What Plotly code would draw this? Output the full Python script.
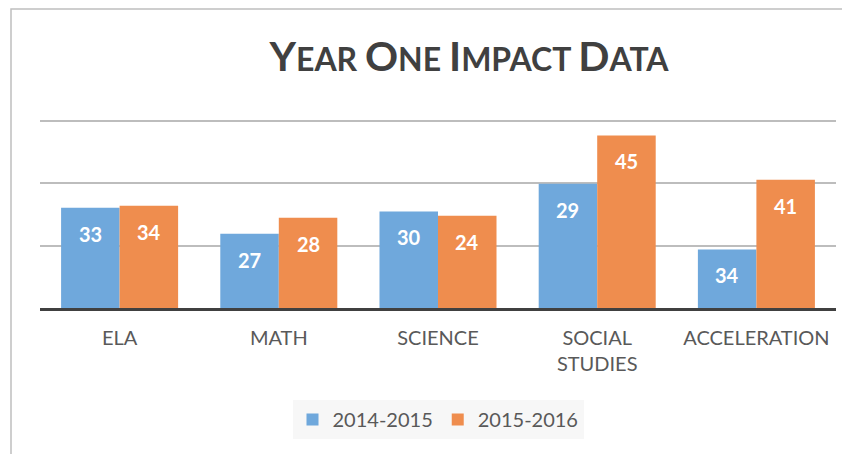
import plotly.graph_objects as go

categories = ["ELA", "MATH", "SCIENCE", "SOCIAL<br>STUDIES", "ACCELERATION"]
series_names = ["2014-2015", "2015-2016"]
# bar heights as drawn (scale 0-60), and the labels printed on them
heights_2014 = [32.2, 23.8, 31.0, 39.9, 18.8]
heights_2015 = [32.8, 29.0, 29.6, 55.4, 41.2]
labels_2014 = ["33", "27", "30", "29", "34"]
labels_2015 = ["34", "28", "24", "45", "41"]

colors = ["#6FA8DC", "#EF8D4E"]
font = "Lato, 'Open Sans', sans-serif"

W, H = 842, 446  # page body adds an 8px margin

fig = go.Figure()
for name, h, c in zip(series_names, [heights_2014, heights_2015], colors):
    fig.add_trace(go.Bar(x=categories, y=h, name=name, marker=dict(color=c, line=dict(width=0))))

# data labels (inside end)
bw = (1 - 0.265) / 2
for i in range(len(categories)):
    for off, h, lab in [(-bw / 2, heights_2014[i], labels_2014[i]), (bw / 2, heights_2015[i], labels_2015[i])]:
        fig.add_annotation(x=i + off, y=h, text="<b>" + lab + "</b>", showarrow=False,
                           yanchor="middle", yshift=-26,
                           font=dict(family=font, size=20, color="white"))

big = "<span style='font-size:41px'>%s</span>"
title = (big % "Y" + "EAR " + big % "O" + "NE " + big % "I" + "MPACT " + big % "D" + "ATA")

fig.update_layout(
    width=W, height=H,
    margin=dict(l=32, r=14, t=110, b=146, autoexpand=False),
    paper_bgcolor="white", plot_bgcolor="white",
    barmode="group", bargap=0.265, bargroupgap=0,
    title=dict(text=title, x=461 / W, xref="container", xanchor="center",
               y=1 - 52 / H, yanchor="middle",
               font=dict(family=font, size=32, color="#404040", weight="bold")),
    showlegend=True,
    legend=dict(orientation="h", x=430 / W, xref="container", xanchor="center",
                y=1 - 392 / H, yref="container", yanchor="top", bgcolor="#F7F7F7",
                font=dict(family=font, size=20, color="#595959"),
                itemwidth=30, traceorder="normal"),
    xaxis=dict(showline=True, linecolor="#404040", linewidth=3, ticks="",
               tickfont=dict(family=font, size=20, color="#595959"),
               ticklabelstandoff=10,
               layer="above traces", showgrid=False),
    yaxis=dict(range=[0, 61], dtick=20, showticklabels=False, showgrid=True,
               gridcolor="rgba(90,90,90,0.4)", gridwidth=1.5, zeroline=False,
               layer="above traces"),
)

# outer chart frame
fig.add_shape(type="rect", xref="paper", yref="paper",
              x0=(3 - 32) / 796, x1=(840 - 32) / 796,
              y0=(300 - 470) / 190, y1=(300 - 1) / 190,
              line=dict(color="#BFBFBF", width=1.5), layer="below")

fig.write_html("out.html")
